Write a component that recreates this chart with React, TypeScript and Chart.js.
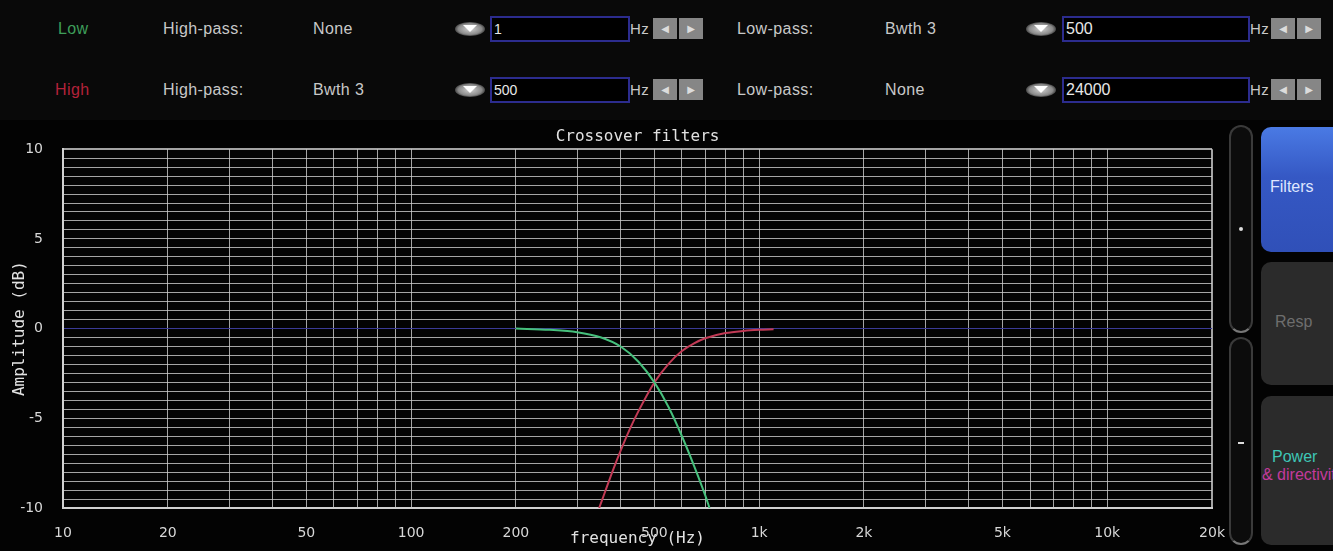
import React, { useEffect, useRef } from 'react';
import { Chart, registerables } from 'chart.js';
Chart.register(...registerables);

// ---- data ----
const xMin = 10;
const xMax = 20000;
const xGridValues = [10, 20, 30, 40, 50, 60, 70, 80, 90, 100, 200, 300, 400, 500, 600, 700, 800, 900, 1000, 2000, 3000, 4000, 5000, 6000, 7000, 8000, 9000, 10000, 20000];
const xLabelValues = [10, 20, 50, 100, 200, 500, 1000, 2000, 5000, 10000, 20000];
const xLabelTexts = ['10', '20', '50', '100', '200', '500', '1k', '2k', '5k', '10k', '20k'];
const yMin = -10;
const yMax = 10;
const yGridStep = 0.5;
const yLabelStep = 5;

const lowFreq = [200, 250, 300, 350, 400, 450, 500, 550, 600, 650, 700, 720];
const lowGain = [0, -0.07, -0.2, -0.48, -1.0, -1.85, -3.0, -4.4, -6.0, -7.65, -9.3, -10];
const highFreq = [347, 360, 380, 400, 425, 450, 500, 550, 600, 650, 700, 800, 900, 1000, 1100];
const highGain = [-10, -9.15, -7.9, -6.8, -5.6, -4.6, -3.0, -1.95, -1.25, -0.82, -0.54, -0.25, -0.13, -0.07, -0.04];

const channelNames = ['Low', 'High'];
const channelColors = ['#3e9e5a', '#b3223a'];
const hpTypes = ['None', 'Bwth 3'];
const hpFreqs = ['1', '500'];
const lpTypes = ['Bwth 3', 'None'];
const lpFreqs = ['500', '24000'];

const GREEN = '#46c07c';
const RED = '#c23a55';
const GRID = 'rgba(205,205,205,0.8)';
const ZERO = '#3a3a96';
const MONO = '"DejaVu Sans Mono", monospace';
const SANS = '"Liberation Sans", Arial, sans-serif';

const txt = (left: number, cy: number, s: string, color = '#c8c8c8', size = 16): React.ReactElement => (
  <div style={{ position: 'absolute', left, top: cy - 10, height: 20, lineHeight: '20px', fontFamily: SANS, fontSize: size, color, letterSpacing: 0.4, whiteSpace: 'nowrap' }}>{s}</div>
);

const Dropdown = ({ left, cy }: { left: number; cy: number }) => (
  <div style={{ position: 'absolute', left, top: cy - 7, width: 30, height: 14, borderRadius: '50%', background: 'radial-gradient(ellipse at center, #cfcfcf 0%, #8a8a8a 55%, #333 75%, rgba(0,0,0,0) 80%)' }}>
    <div style={{ position: 'absolute', left: 8, top: 3, width: 0, height: 0, borderLeft: '7px solid transparent', borderRight: '7px solid transparent', borderTop: '7px solid #fff' }} />
  </div>
);

const Input = ({ left, cy, width, value, size }: { left: number; cy: number; width: number; value: string; size: number }) => (
  <div style={{ position: 'absolute', left, top: cy - 13, width: width - 4, height: 22, border: '2px solid #2c2c8e', background: '#000', color: '#e8e8e8', fontFamily: SANS, fontSize: size, lineHeight: '22px', paddingLeft: 2, boxSizing: 'content-box' }}>{value}</div>
);

const ArrowBtn = ({ left, cy, glyph }: { left: number; cy: number; glyph: string }) => (
  <div style={{ position: 'absolute', left, top: cy - 11, width: 24, height: 21, background: '#868686', color: '#dcdcdc', fontSize: 10, lineHeight: '21px', textAlign: 'center', fontFamily: '"DejaVu Sans", sans-serif' }}>{glyph}</div>
);

function ChartCanvas() {
  const ref = useRef<HTMLCanvasElement | null>(null);
  useEffect(() => {
    if (!ref.current) return;
    const chart = new Chart(ref.current, {
      type: 'line',
      data: {
        datasets: [
          { label: 'Low', data: lowFreq.map((f, i) => ({ x: f, y: lowGain[i] })), borderColor: GREEN, borderWidth: 2, pointRadius: 0, cubicInterpolationMode: 'monotone', fill: false },
          { label: 'High', data: highFreq.map((f, i) => ({ x: f, y: highGain[i] })), borderColor: RED, borderWidth: 2, pointRadius: 0, cubicInterpolationMode: 'monotone', fill: false },
        ],
      },
      options: {
        animation: false,
        responsive: true,
        maintainAspectRatio: false,
        layout: { padding: { left: 0, right: 16, top: 0, bottom: 0 } },
        plugins: {
          legend: { display: false },
          tooltip: { enabled: false },
          title: {
            display: true,
            text: 'Crossover filters',
            fullSize: false,
            color: '#e2e2e2',
            font: { family: MONO, size: 16, weight: 'normal' },
            padding: { top: 7, bottom: 3 },
          },
        },
        scales: {
          x: {
            type: 'logarithmic',
            min: xMin,
            max: xMax,
            position: 'bottom',
            afterBuildTicks: (s: any) => { s.ticks = xGridValues.map((v) => ({ value: v })); },
            afterFit: (s: any) => { s.height = 43; },
            ticks: {
              autoSkip: false,
              maxRotation: 0,
              minRotation: 0,
              padding: 17,
              color: '#d8d8d8',
              font: { family: '"DejaVu Sans", sans-serif', size: 14 },
              callback: (v: any) => {
                const i = xLabelValues.indexOf(Number(v));
                return i >= 0 ? xLabelTexts[i] : '';
              },
            },
            grid: {
              color: GRID,
              lineWidth: (ctx: any) => (ctx.tick && ctx.tick.value === xMax ? 2 : 1),
              drawTicks: false,
            },
            border: { color: '#d0d0d0', width: 2 },
            title: { display: true, text: 'frequency (Hz)', color: '#e2e2e2', font: { family: MONO, size: 16, weight: 'normal' }, padding: { top: 0, bottom: 3 } },
          },
          y: {
            type: 'linear',
            min: yMin,
            max: yMax,
            afterFit: (s: any) => { s.width = 63; },
            ticks: {
              stepSize: yGridStep,
              autoSkip: false,
              padding: 20,
              color: '#d8d8d8',
              font: { family: '"DejaVu Sans", sans-serif', size: 14 },
              callback: (v: any) => (Math.abs(Number(v) % yLabelStep) < 1e-9 ? String(v) : ''),
            },
            grid: {
              color: (ctx: any) => (ctx.tick && ctx.tick.value === 0 ? ZERO : GRID),
              lineWidth: (ctx: any) => (ctx.tick && ctx.tick.value === yMax ? 2 : 1),
              drawTicks: false,
            },
            border: { color: '#d0d0d0', width: 2 },
            title: { display: true, text: 'Amplitude (dB)', color: '#e2e2e2', font: { family: MONO, size: 16, weight: 'normal' }, padding: { top: 10, bottom: 0 } },
          },
        },
      },
    } as any);
    return () => chart.destroy();
  }, []);
  return (
    <div style={{ position: 'absolute', left: 0, top: 120, width: 1242, height: 431 }}>
      <canvas ref={ref} />
    </div>
  );
}

export default function App() {
  const rowsY = [29, 90];
  return (
    <div style={{ position: 'fixed', left: 0, top: 0, width: 1333, height: 551, background: '#030303', overflow: 'hidden' }}>
      <div style={{ position: 'absolute', left: 0, top: 0, width: 1333, height: 120, background: '#090909' }} />
      {rowsY.map((cy, r) => (
        <React.Fragment key={r}>
          {txt(r === 0 ? 58 : 55, cy, channelNames[r], channelColors[r])}
          {txt(163, cy, 'High-pass:')}
          {txt(313, cy, hpTypes[r])}
          <Dropdown left={455} cy={cy} />
          <Input left={490} cy={cy} width={138} value={hpFreqs[r]} size={14} />
          {txt(630, cy, 'Hz', '#c8c8c8', 15)}
          <ArrowBtn left={653} cy={cy} glyph="◀" />
          <ArrowBtn left={679} cy={cy} glyph="▶" />
          {txt(737, cy, 'Low-pass:')}
          {txt(885, cy, lpTypes[r])}
          <Dropdown left={1026} cy={cy} />
          <Input left={1062} cy={cy} width={186} value={lpFreqs[r]} size={16} />
          {txt(1250, cy, 'Hz', '#c8c8c8', 15)}
          <ArrowBtn left={1271} cy={cy} glyph="◀" />
          <ArrowBtn left={1297} cy={cy} glyph="▶" />
        </React.Fragment>
      ))}
      <ChartCanvas />
      {/* sliders */}
      <div style={{ position: 'absolute', left: 1229, top: 125, width: 20, height: 204, borderRadius: 12, border: '2px solid #3a3a3a', borderBottomColor: '#777', background: '#0c0c0c' }}>
        <div style={{ position: 'absolute', left: 8, top: 100, width: 4, height: 4, borderRadius: 2, background: '#ddd' }} />
      </div>
      <div style={{ position: 'absolute', left: 1229, top: 337, width: 20, height: 204, borderRadius: 12, border: '2px solid #3a3a3a', borderBottomColor: '#777', background: '#0c0c0c' }}>
        <div style={{ position: 'absolute', left: 7, top: 103, width: 6, height: 2, background: '#ddd' }} />
      </div>
      {/* buttons */}
      <div style={{ position: 'absolute', left: 1261, top: 127, width: 90, height: 125, borderRadius: 10, background: 'linear-gradient(#4a7ae4, #3558c4 40%, #3050b8)', color: '#dfe6ff', fontFamily: SANS, fontSize: 16, lineHeight: '120px', paddingLeft: 9, boxSizing: 'border-box' }}>Filters</div>
      <div style={{ position: 'absolute', left: 1261, top: 262, width: 90, height: 123, borderRadius: 10, background: '#2b2b2b', color: '#6e6e6e', fontFamily: SANS, fontSize: 16, lineHeight: '120px', paddingLeft: 14, boxSizing: 'border-box' }}>Resp</div>
      <div style={{ position: 'absolute', left: 1261, top: 396, width: 90, height: 149, borderRadius: 10, background: '#2b2b2b', fontFamily: SANS, fontSize: 16, boxSizing: 'border-box' }}>
        <div style={{ position: 'absolute', left: 11, top: 52, color: '#3ec6b6', whiteSpace: 'nowrap' }}>Power</div>
        <div style={{ position: 'absolute', left: 1, top: 70, color: '#c43a9c', whiteSpace: 'nowrap' }}>&amp; directivity</div>
      </div>
    </div>
  );
}
